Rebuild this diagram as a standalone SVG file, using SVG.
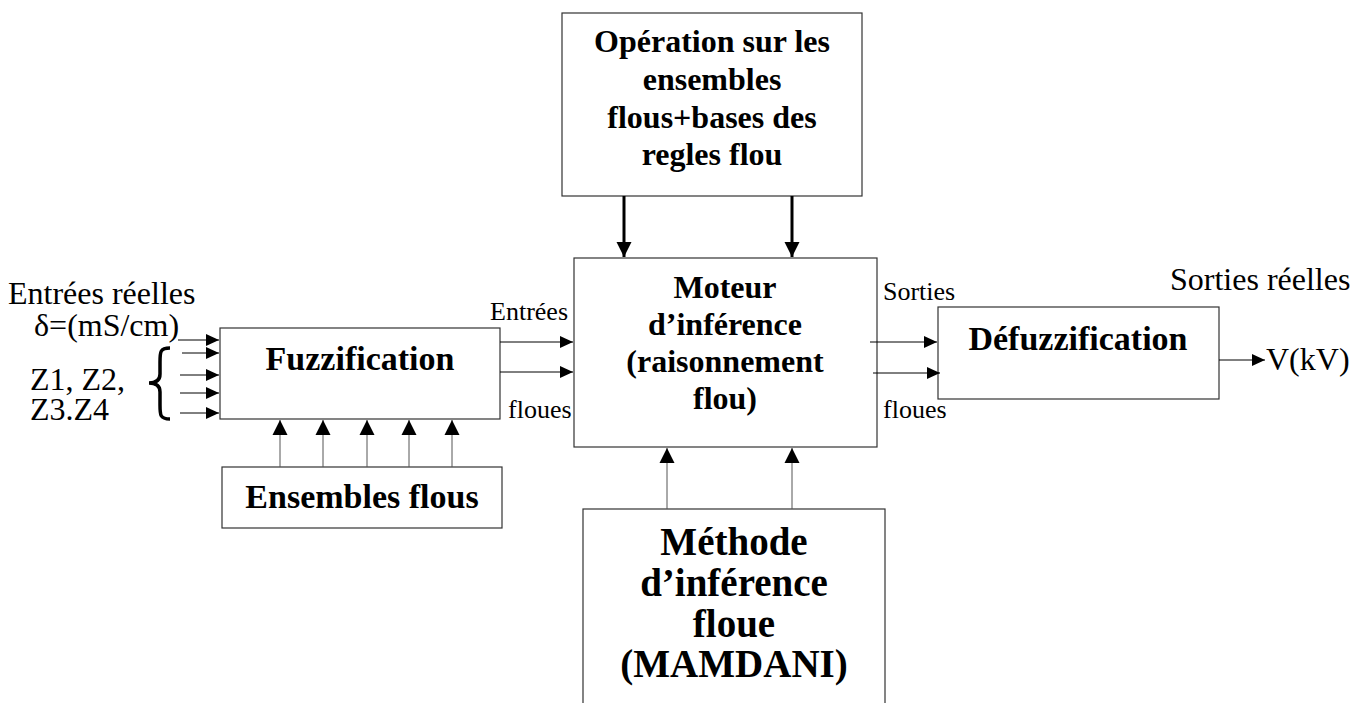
<svg xmlns="http://www.w3.org/2000/svg" width="1362" height="703" viewBox="0 0 1362 703">
<style>
.box{fill:#fff;stroke:#333;stroke-width:1.2}
.t{font-family:"Liberation Serif","Times New Roman",serif;fill:#000}
.b{font-weight:bold;text-anchor:middle}
.ln{stroke:#000;stroke-width:1;fill:none}
.lg{stroke:#555;stroke-width:1;fill:none}
.thick{stroke:#000;stroke-width:3;fill:none}
</style>
<defs>
<marker id="ah" markerUnits="userSpaceOnUse" markerWidth="14" markerHeight="12" refX="13" refY="6" orient="auto">
<path d="M0,0 L13,6 L0,12 Z" fill="#000"/>
</marker>
<marker id="ahu" markerUnits="userSpaceOnUse" markerWidth="16" markerHeight="16" refX="15" refY="8" orient="auto">
<path d="M0,0.5 L15,8 L0,15.5 Z" fill="#000"/>
</marker>
</defs>
<rect width="1362" height="703" fill="#fff"/>

<g id="operation">
<rect class="box" x="562" y="13" width="300" height="183"/>
<text class="t b" font-size="32"><tspan x="712" y="52">Opération sur les</tspan><tspan x="712" y="90">ensembles</tspan><tspan x="712" y="128">flous+bases des</tspan><tspan x="712" y="165">regles flou</tspan></text>
</g>

<g id="moteur">
<rect class="box" x="574" y="258" width="303" height="189"/>
<text class="t b" font-size="32"><tspan x="725" y="298">Moteur</tspan><tspan x="725" y="335">d’inférence</tspan><tspan x="725" y="372">(raisonnement</tspan><tspan x="725" y="409">flou)</tspan></text>
</g>

<g id="methode">
<rect class="box" x="583" y="509" width="302" height="200"/>
<text class="t b" font-size="39"><tspan x="734" y="555">Méthode</tspan><tspan x="734" y="596">d’inférence</tspan><tspan x="734" y="637">floue</tspan><tspan x="734" y="677">(MAMDANI)</tspan></text>
</g>

<g id="fuzzification">
<rect class="box" x="220" y="328" width="280" height="91"/>
<text class="t b" font-size="34" x="360" y="370">Fuzzification</text>
</g>

<g id="ensembles">
<rect class="box" x="222" y="467" width="280" height="61"/>
<text class="t b" font-size="34" x="362" y="508">Ensembles flous</text>
</g>

<g id="defuzzification">
<rect class="box" x="938" y="307" width="281" height="92"/>
<text class="t b" font-size="34" x="1078" y="350">Défuzzification</text>
</g>

<g id="labels" class="t">
<text font-size="32" x="8" y="304">Entrées réelles</text>
<text font-size="32" x="34" y="336">δ=(mS/cm)</text>
<text font-size="32" x="30" y="390">Z1, Z2,</text>
<text font-size="32" x="30" y="420">Z3.Z4</text>
<text font-size="26" x="568" y="320" text-anchor="end">Entrées</text>
<text font-size="26" x="508" y="418">floues</text>
<text font-size="26" x="883" y="300">Sorties</text>
<text font-size="26" x="883" y="418">floues</text>
<text font-size="32" x="1170" y="290">Sorties réelles</text>
<text font-size="32" x="1266" y="370">V(kV)</text>
</g>

<g id="connectors">
<path d="M170,348 C160,348 160,352 160,362 L160,374 C160,380 156,383 149,383 C156,383 160,386 160,392 L160,405 C160,415 160,419 170,419" fill="none" stroke="#000" stroke-width="3.5"/>
<line class="ln" x1="178" y1="340" x2="219" y2="340" marker-end="url(#ah)"/>
<line class="ln" x1="182" y1="353" x2="219" y2="353" marker-end="url(#ah)"/>
<line class="ln" x1="180" y1="375" x2="219" y2="375" marker-end="url(#ah)"/>
<line class="ln" x1="180" y1="393" x2="219" y2="393" marker-end="url(#ah)"/>
<line class="ln" x1="180" y1="413" x2="219" y2="413" marker-end="url(#ah)"/>

<line class="lg" x1="280" y1="467" x2="280" y2="420" marker-end="url(#ahu)"/>
<line class="lg" x1="323" y1="467" x2="323" y2="420" marker-end="url(#ahu)"/>
<line class="lg" x1="367" y1="467" x2="367" y2="420" marker-end="url(#ahu)"/>
<line class="lg" x1="409" y1="467" x2="409" y2="420" marker-end="url(#ahu)"/>
<line class="lg" x1="452" y1="467" x2="452" y2="420" marker-end="url(#ahu)"/>

<line class="ln" x1="500" y1="342" x2="573" y2="342" marker-end="url(#ah)"/>
<line class="ln" x1="500" y1="372" x2="573" y2="372" marker-end="url(#ah)"/>

<line class="thick" x1="624" y1="196" x2="624" y2="257" marker-end="url(#ahu)"/>
<line class="thick" x1="792" y1="196" x2="792" y2="257" marker-end="url(#ahu)"/>

<line class="lg" x1="667" y1="509" x2="667" y2="448" marker-end="url(#ahu)"/>
<line class="lg" x1="792" y1="509" x2="792" y2="448" marker-end="url(#ahu)"/>

<line class="ln" x1="870" y1="342" x2="937" y2="342" marker-end="url(#ah)"/>
<line class="ln" x1="873" y1="373" x2="940" y2="373" marker-end="url(#ah)"/>

<line class="ln" x1="1219" y1="360" x2="1265" y2="360" marker-end="url(#ah)"/>
</g>
</svg>
